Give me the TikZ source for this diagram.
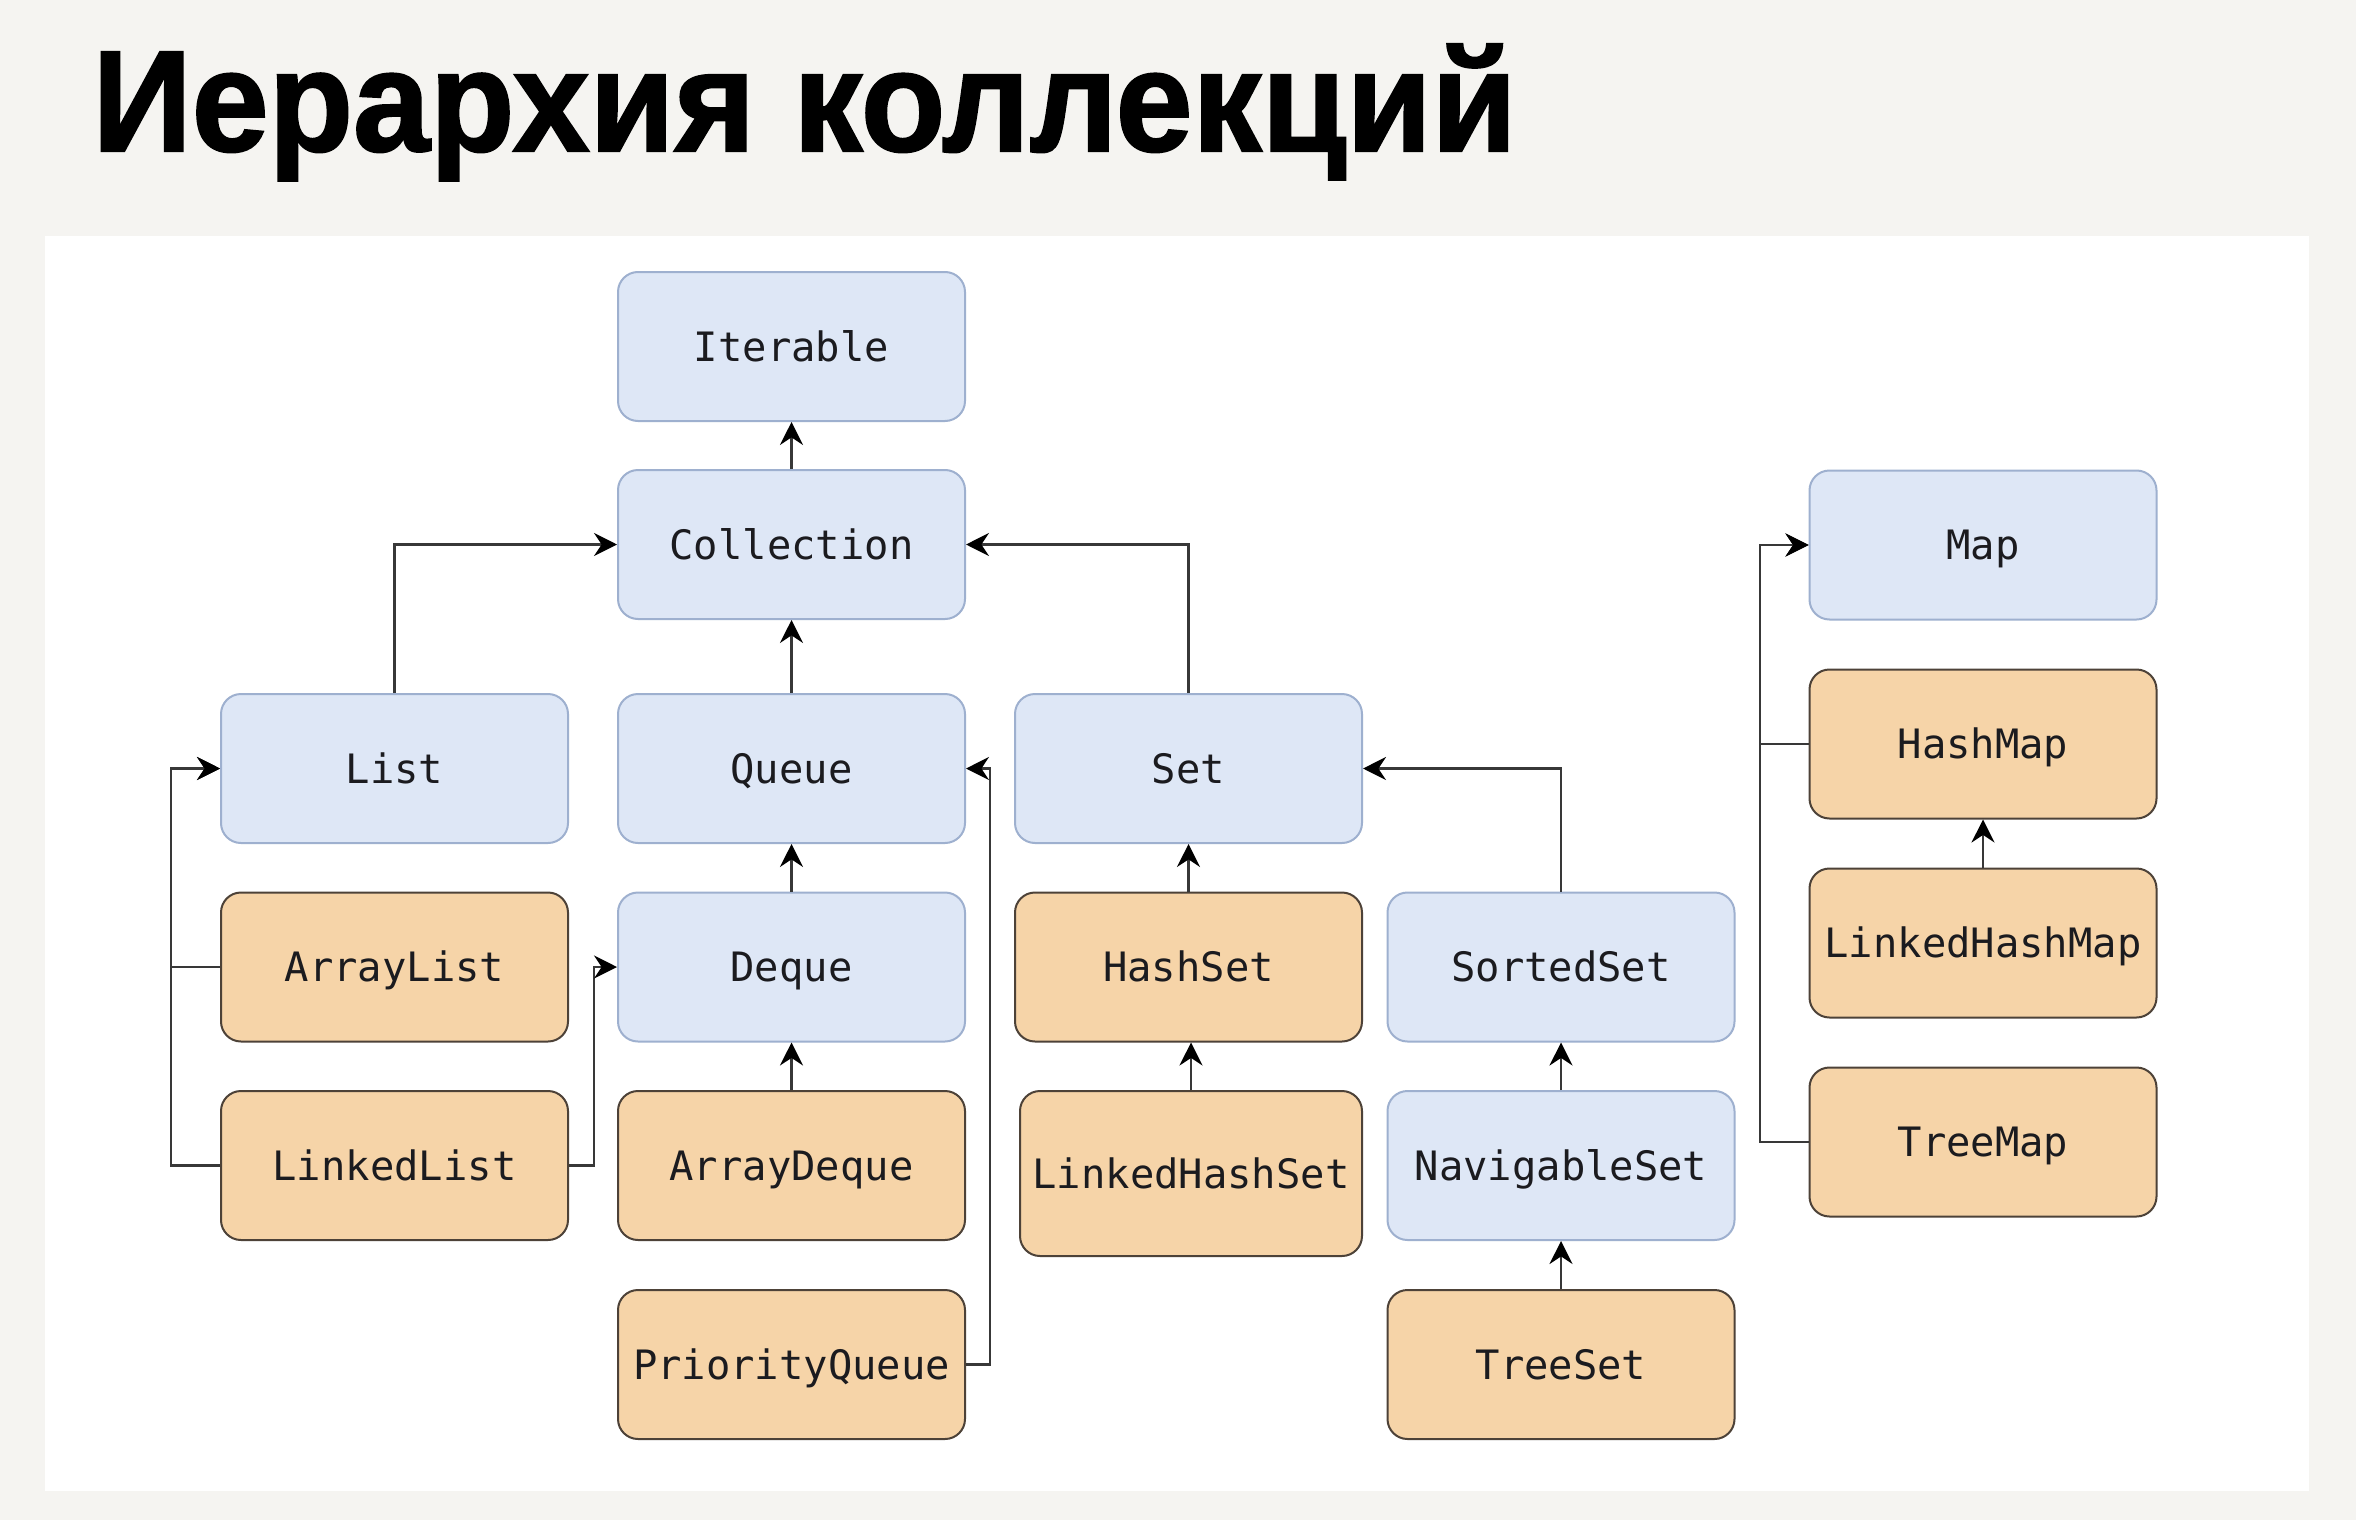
\documentclass[tikz,border=0pt]{standalone}
\usepackage{fontspec}
\usepackage{graphicx}
\usetikzlibrary{arrows.meta}
\newfontfamily\boxfont{DejaVu Sans Mono}
\newfontfamily\titlefont[FakeBold=1.5]{Liberation Sans Bold}
\definecolor{pagebg}{HTML}{F5F4F1}
\definecolor{ifacefill}{HTML}{DEE7F6}
\definecolor{ifaceline}{HTML}{9EB0CF}
\definecolor{implfill}{HTML}{F6D4A8}
\definecolor{implline}{HTML}{4D4238}
\definecolor{txt}{HTML}{1B1B1F}
\tikzset{
  base/.style={rectangle, rounded corners=10pt, minimum width=173.5pt,
    minimum height=74.5pt, inner sep=0pt, line width=1pt,
    text height=14.76pt, text depth=0pt,
    font=\boxfont\fontsize{20.25}{24}\selectfont, text=txt},
  iface/.style={base, draw=ifaceline, fill=ifacefill},
  impl/.style={base, draw=implline, fill=implfill},
  arr/.style={draw=black!78, line width=1.1pt,
    -{Stealth[length=11.5pt,width=11.5pt,inset=3.8pt,color=black,fill=black]}}
}
\begin{document}
\begin{tikzpicture}[x=0.5pt,y=-0.5pt]
  % page and white panel
  \fill[pagebg] (0,0) rectangle (2356,1520);
  \useasboundingbox (0,0) rectangle (2356,1520);
  \fill[white] (45,236) rectangle (2309,1491);

  % heading
  \node[anchor=base west, inner sep=0pt, text=black,
        font=\titlefont\fontsize{72}{80}\selectfont] (title) at (92,151)
        {\scalebox{0.96}[1]{Иерархия коллекций}};

  % Collection branch
  \node[iface] (Iterable)   at (791.5,346.5) {Iterable};
  \node[iface] (Collection) at (791.5,544.5) {Collection};
  \node[iface] (List)       at (394.5,768.5) {List};
  \node[iface] (Queue)      at (791.5,768.5) {Queue};
  \node[iface] (Set)        at (1188.5,768.5) {Set};

  \node[impl]  (ArrayList)  at (394.5,967) {ArrayList};
  \node[iface] (Deque)      at (791.5,967) {Deque};
  \node[impl]  (HashSet)    at (1188.5,967) {HashSet};
  \node[iface] (SortedSet)  at (1561,967) {SortedSet};

  \node[impl]  (LinkedList) at (394.5,1165.5) {LinkedList};
  \node[impl]  (ArrayDeque) at (791.5,1165.5) {ArrayDeque};
  \node[impl, minimum width=171pt, minimum height=82.5pt]
               (LinkedHashSet) at (1191,1173.5) {LinkedHashSet};
  \node[iface] (NavigableSet) at (1561,1165.5) {NavigableSet};

  \node[impl]  (PriorityQueue) at (791.5,1364.5) {PriorityQueue};
  \node[impl]  (TreeSet)    at (1561,1364.5) {TreeSet};

  % Map branch
  \node[iface] (Map)           at (1983,545) {Map};
  \node[impl]  (HashMap)       at (1983,744) {HashMap};
  \node[impl]  (LinkedHashMap) at (1983,943) {LinkedHashMap};
  \node[impl]  (TreeMap)       at (1983,1142) {TreeMap};

  % vertical buses for the elbow connectors
  \coordinate (listbus)  at (171,0);
  \coordinate (dequebus) at (594,0);
  \coordinate (queuebus) at (990,0);
  \coordinate (mapbus)   at (1760,0);

  % connectors
  \draw[arr] (Collection.north) -- (Iterable.south);
  \draw[arr] (Queue.north) -- (Collection.south);
  \draw[arr] (List.north) |- (Collection.west);
  \draw[arr] (Set.north) |- (Collection.east);

  \draw[arr] (ArrayList.west) -- (ArrayList.west -| listbus) |- (List.west);
  \draw[arr] (LinkedList.west) -- (LinkedList.west -| listbus) |- (List.west);
  \draw[arr] (LinkedList.east) -- (LinkedList.east -| dequebus) |- (Deque.west);
  \draw[arr] (PriorityQueue.east) -- (PriorityQueue.east -| queuebus) |- (Queue.east);
  \draw[arr] (Deque.north) -- (Queue.south);
  \draw[arr] (ArrayDeque.north) -- (Deque.south);

  \draw[arr] (HashSet.north) -- (Set.south);
  \draw[arr] (LinkedHashSet.north) -- (LinkedHashSet.north |- HashSet.south);
  \draw[arr] (SortedSet.north) |- (Set.east);
  \draw[arr] (NavigableSet.north) -- (SortedSet.south);
  \draw[arr] (TreeSet.north) -- (NavigableSet.south);

  \draw[arr] (HashMap.west) -- (HashMap.west -| mapbus) |- (Map.west);
  \draw[arr] (TreeMap.west) -- (TreeMap.west -| mapbus) |- (Map.west);
  \draw[arr] (LinkedHashMap.north) -- (HashMap.south);
\end{tikzpicture}
\end{document}
